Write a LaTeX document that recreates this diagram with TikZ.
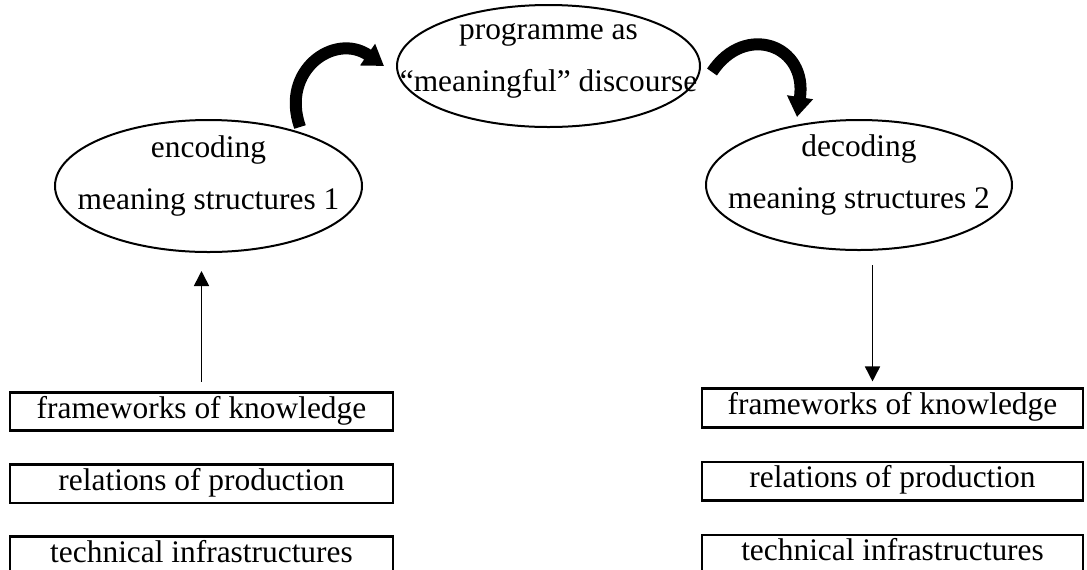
\documentclass[tikz,border=0pt]{standalone}
\usepackage{fontspec}
\setmainfont{Liberation Serif}
\usetikzlibrary{shapes.geometric,arrows.meta,positioning}

\begin{document}
\begin{tikzpicture}[x=0.5pt,y=-0.5pt,
    every node/.style={font=\fontsize{15.7}{26}\selectfont},
    oval/.style={draw,ellipse,line width=1pt,inner sep=0pt},
    ovaltext/.style={align=center,inner sep=0pt},
    box/.style={draw,line width=1.3pt,minimum height=19.25pt,inner sep=0pt,
      text height=10.5pt,text depth=4pt},
    upline/.style={line width=0.8pt,-{Triangle[length=7.5pt,width=7.5pt]}},
    bigarrow/.style={line width=6pt,-{Triangle[length=10pt,width=12.5pt]}}]
  \useasboundingbox (0,0) rectangle (1087,569);
  % ellipses
  \node[oval,minimum width=151.5pt,minimum height=61pt] (prog) at (548.5,66) {};
  \node[ovaltext] (prog txt) at ([yshift=2.5pt]prog.center) {programme as\\“meaningful” discourse};
  \node[oval,minimum width=153.5pt,minimum height=66pt] (enc) at (208.5,186) {};
  \node[ovaltext] (enc txt) at ([yshift=5pt]enc.center) {encoding\\meaning structures 1};
  \node[oval,minimum width=153pt,minimum height=65pt] (dec) at (859,185) {};
  \node[ovaltext] (dec txt) at ([yshift=5pt]dec.center) {decoding\\meaning structures 2};
  % boxes left
  \node[box,minimum width=191.5pt] (kn1) at (201.5,411.5) {frameworks of knowledge};
  \node[box,minimum width=191.5pt,below=15.5pt of kn1] (kn2) {relations of production};
  \node[box,minimum width=191.5pt,below=15.5pt of kn2] (kn3) {technical infrastructures};
  % boxes right
  \node[box,minimum width=190.5pt] (kn4) at (892.5,408) {frameworks of knowledge};
  \node[box,minimum width=190.5pt,below=16pt of kn4] (kn5) {relations of production};
  \node[box,minimum width=190.5pt,below=16pt of kn5] (kn6) {technical infrastructures};
  % straight arrows
  \draw[upline,shorten <=4.5pt,shorten >=9pt] (kn1.north) -- (kn1.north |- enc.south);
  \coordinate (d1) at ([xshift=-10pt]kn4.north);
  \draw[upline,shorten <=7pt,shorten >=3pt] (d1 |- dec.south) -- (d1);
  % thick curved arrows
  \coordinate (c1) at (300,127);
  \coordinate (c2) at (384,66);
  \draw[bigarrow] (c1) .. controls (280,70) and (335,32) .. (c2);
  \coordinate (c3) at (712,72);
  \coordinate (c4) at (797,117);
  \draw[bigarrow] (c3) .. controls (745,22) and (808,45) .. (c4);
\end{tikzpicture}
\end{document}
